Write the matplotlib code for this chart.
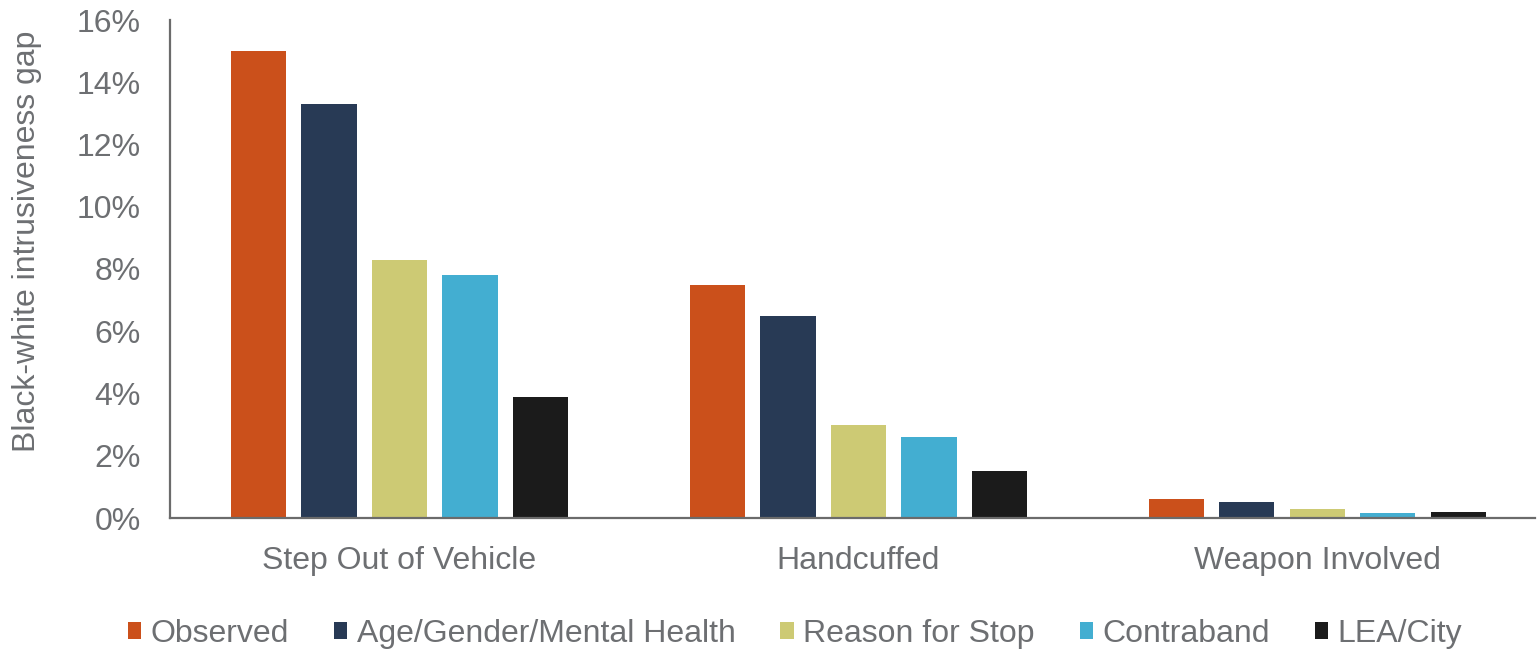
import numpy as np
import matplotlib.pyplot as plt
from matplotlib.ticker import FuncFormatter

plt.rcParams['font.family'] = ['Liberation Sans', 'DejaVu Sans']

categories = ['Step Out of Vehicle', 'Handcuffed', 'Weapon Involved']
series_names = ['Observed', 'Age/Gender/Mental Health', 'Reason for Stop', 'Contraband', 'LEA/City']
observed = [15.0, 7.5, 0.6]
age_gender_mh = [13.3, 6.5, 0.5]
reason_for_stop = [8.3, 3.0, 0.3]
contraband = [7.8, 2.6, 0.17]
lea_city = [3.9, 1.5, 0.18]
series_values = [observed, age_gender_mh, reason_for_stop, contraband, lea_city]
colors = ['#CB501B', '#283A55', '#CDCA74', '#43AED1', '#1B1B1B']

text_color = '#6D6F72'
spine_color = '#6B6B6B'

fig = plt.figure(figsize=(15.38, 6.5), dpi=100)
ax = fig.add_axes([170/1538, 1-518/650, 1365/1538, 498/650])

x = np.arange(len(categories))
step = 0.1536
width = 0.12
for i, (name, vals) in enumerate(zip(series_names, series_values)):
	ax.bar(x + (i - 2) * step, vals, width=width, color=colors[i], label=name)

ax.set_xlim(-0.5, 2.474)
ax.set_ylim(0, 16)
ax.set_yticks(range(0, 17, 2))
ax.yaxis.set_major_formatter(FuncFormatter(lambda v, _: f'{v:.0f}%'))
ax.set_xticks(x)
ax.set_xticklabels(categories)
ax.tick_params(axis='both', length=0, labelsize=23, labelcolor=text_color)
ax.tick_params(axis='y', pad=21)
ax.tick_params(axis='x', pad=20)
ax.set_ylabel('Black-white intrusiveness gap', fontsize=23, color=text_color)
ax.yaxis.set_label_coords(-0.094, 0.556)

for side in ['top', 'right']:
	ax.spines[side].set_visible(False)
for side in ['left', 'bottom']:
	ax.spines[side].set_color(spine_color)
	ax.spines[side].set_linewidth(1.6)

leg = fig.legend(loc='center', bbox_to_anchor=(795/1538, 1-634/650), ncol=5, frameon=False,
	fontsize=23, handlelength=0.42, handleheight=0.42, handletextpad=0.3, columnspacing=1.4,
	borderpad=0)
for t in leg.get_texts():
	t.set_color(text_color)

fig.savefig('out.png', dpi=100)
